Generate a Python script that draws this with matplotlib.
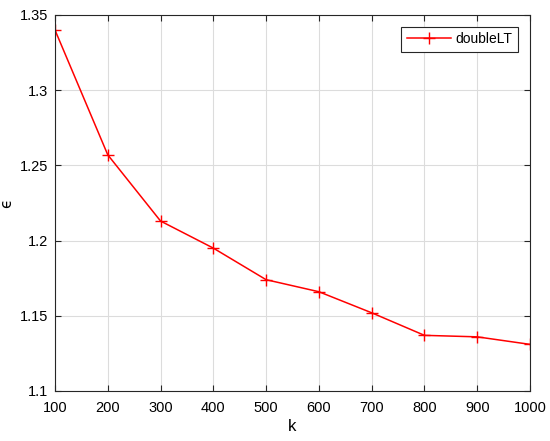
import matplotlib
matplotlib.use('Agg')
import matplotlib.pyplot as plt

# values
k = [100, 200, 300, 400, 500, 600, 700, 800, 900, 1000]
eps = [1.340, 1.257, 1.213, 1.195, 1.174, 1.166, 1.152, 1.137, 1.136, 1.131]
xticks = [100, 200, 300, 400, 500, 600, 700, 800, 900, 1000]
yticks = [1.1, 1.15, 1.2, 1.25, 1.3, 1.35]
ytick_labels = ['1.1', '1.15', '1.2', '1.25', '1.3', '1.35']

plt.rcParams['font.family'] = ['Liberation Sans', 'DejaVu Sans']

fig = plt.figure(figsize=(5.5, 4.41), dpi=100)
ax = fig.add_axes([0.1, 0.1134, 0.8636, 0.8526])

ax.plot(k, eps, color='red', marker='+', markersize=9, linewidth=1.1,
        markeredgewidth=1.0, label='doubleLT')

ax.set_xlim(100, 1000)
ax.set_ylim(1.1, 1.35)
ax.set_xticks(xticks)
ax.set_yticks(yticks)
ax.set_yticklabels(ytick_labels)
ax.grid(True, color='#dcdcdc', linewidth=0.8)
ax.set_axisbelow(True)
ax.tick_params(direction='in', top=True, right=True, labelsize=10.5,
               color='#262626', length=4, width=0.8)
ax.tick_params(axis='x', pad=7)
ax.tick_params(axis='y', pad=5)
for s in ax.spines.values():
    s.set_color('#262626')
    s.set_linewidth(0.8)

ax.set_xlabel('k', fontsize=12, labelpad=3)
ax.set_ylabel('ϵ', fontsize=11, labelpad=4, family=['DejaVu Sans'])

leg = ax.legend(loc='upper right', fontsize=10, fancybox=False,
                edgecolor='#262626', framealpha=1, handlelength=3.2,
                handletextpad=0.3, borderaxespad=0.85, borderpad=0.4)
leg.get_frame().set_linewidth(0.8)

fig.savefig('out.png', dpi=100)
